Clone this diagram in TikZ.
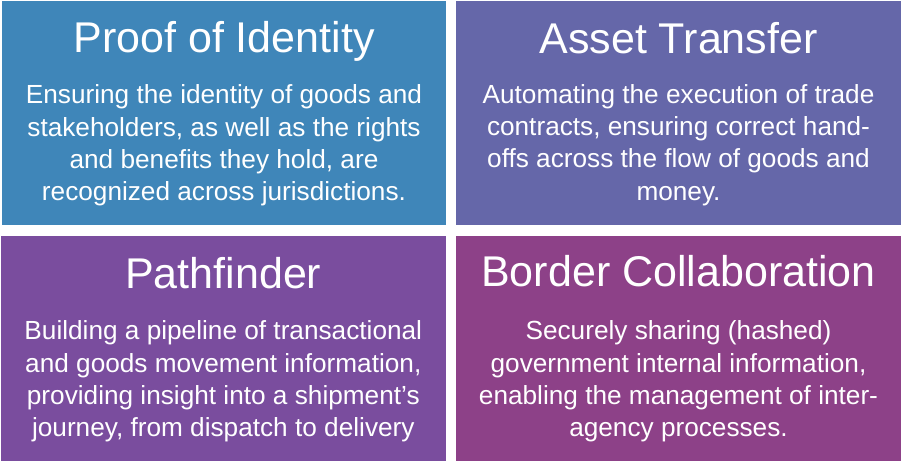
\documentclass[tikz,border=0pt]{standalone}
\usepackage{fontspec}
\setmainfont{Liberation Sans}
\definecolor{cA}{RGB}{63,134,185}
\definecolor{cB}{RGB}{101,103,169}
\definecolor{cC}{RGB}{122,77,158}
\definecolor{cD}{RGB}{141,65,136}
\begin{document}
\begin{tikzpicture}[x=1pt,y=-1pt,
  ttl/.style={text=white, anchor=base, inner sep=0pt, font=\fontsize{43}{50}\selectfont},
  bdy/.style={text=white, anchor=base, inner sep=0pt, align=center, font=\fontsize{26.2}{32.3}\selectfont}]
\useasboundingbox (0,0) rectangle (901,461);
\fill[cA] (2,1) rectangle (446,225);
\fill[cB] (456,1) rectangle (901,225);
\fill[cC] (0.5,236) rectangle (446,461);
\fill[cD] (456,236) rectangle (901,461);
\node[ttl] (t1) at (224,52.7) {Proof of Identity};
\node[bdy] (b1) at (224,200.7) {Ensuring the identity of goods and\\stakeholders, as well as the rights\\and benefits they hold, are\\recognized across jurisdictions.};
\node[ttl] (t2) at (678.5,53.3) {Asset Transfer};
\node[bdy] (b2) at (678.5,200) {Automating the execution of trade\\contracts, ensuring correct hand-\\offs across the flow of goods and\\money.};
\node[ttl] (t3) at (223.3,288.3) {Pathfinder};
\node[bdy] (b3) at (223.3,436.7) {Building a pipeline of transactional\\and goods movement information,\\providing insight into a shipment’s\\journey, from dispatch to delivery};
\node[ttl] (t4) at (678.5,286.7) {Border Collaboration};
\node[bdy] (b4) at (678.5,436.7) {Securely sharing (hashed)\\government internal information,\\enabling the management of inter-\\agency processes.};
\end{tikzpicture}
\end{document}
